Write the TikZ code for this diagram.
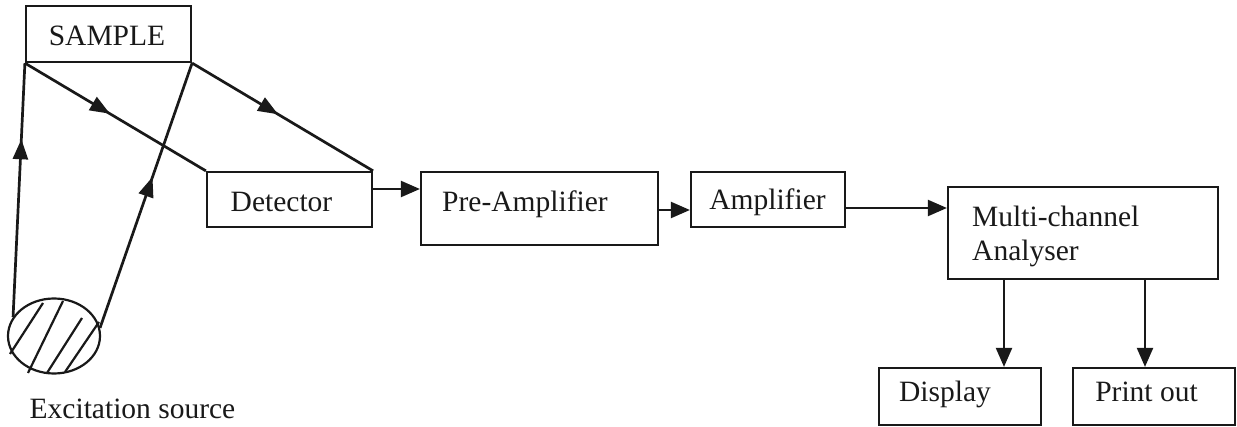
\documentclass[tikz,border=0pt]{standalone}
\usepackage{fontspec}
\setmainfont{Liberation Serif}
\usetikzlibrary{arrows.meta,decorations.markings,shapes.geometric}

\begin{document}
\begin{tikzpicture}[x=1pt,y=-1pt,
  box/.style={draw=black!90, line width=2.2pt, rectangle, inner sep=0pt},
  txt/.style={font=\fontsize{29.5}{34}\selectfont, inner sep=0pt, text=black!90},
  flow/.style={draw=black!90, line width=2.2pt, -{Triangle[length=19pt,width=16pt]}},
  ray/.style={draw=black!90, line width=2.7pt, postaction={decorate},
    decoration={markings, mark=at position #1 with {\arrow{Triangle[length=20pt,width=15pt]}}}},
]
\useasboundingbox (0,0) rectangle (1237,427);

% blocks
\node[box, minimum width=165pt, minimum height=56pt] (sample) at (108.5,34) {};
\node[box, minimum width=165pt, minimum height=55pt] (det) at (289.5,199.5) {};
\node[box, minimum width=237pt, minimum height=73pt] (pre) at (539.5,208.5) {};
\node[box, minimum width=154pt, minimum height=55pt] (amp) at (768,199.5) {};
\node[box, minimum width=270pt, minimum height=92pt] (mca) at (1083,233) {};
\node[box, minimum width=162pt, minimum height=57pt] (disp) at (960,396.5) {};
\node[box, minimum width=162pt, minimum height=57pt] (print) at (1154,396.5) {};

% block captions
\node[txt, anchor=base] (sample-t) at (107,46) {SAMPLE};
\node[txt, anchor=base] (det-t) at (281.5,212) {Detector};
\node[txt, anchor=base west] (pre-t) at (442,212) {Pre-Amplifier};
\node[txt, anchor=base] (amp-t) at (767.5,210) {Amplifier};
\node[txt, anchor=base west] (mca-t1) at (972,227) {Multi-channel};
\node[txt, anchor=base west] (mca-t2) at (972,261) {Analyser};
\node[txt, anchor=base] (disp-t) at (945,402) {Display};
\node[txt, anchor=base] (print-t) at (1146.5,402) {Print out};

% excitation source: hatched ellipse
\node[ellipse, draw=black!90, line width=2.2pt, minimum width=92pt, minimum height=75pt, inner sep=0pt] (src) at (54,336) {};
\begin{scope}[draw=black!90, line width=2.2pt]
  \draw (10,354) -- (43,303);
  \draw (28,373) -- (63,301);
  \draw (47,373) -- (82,318);
  \draw (65,372) -- (99,322);
\end{scope}
\node[txt, anchor=base] (src-t) at (132.5,418) {Excitation source};

% radiation paths
\draw[ray=0.7] (src.155) -- (sample.south west);
\draw[ray=0.57] (src.10) -- (sample.south east);
\draw[ray=0.47] (sample.south west) -- (det.north west);
\draw[ray=0.475] (sample.south east) -- (det.north east);

% signal chain
\draw[flow] ([yshift=10.5pt]det.east) -- ([yshift=10.5pt]det.east -| pre.west);
\draw[flow] ([yshift=-1.5pt]pre.east) -- ([yshift=-1.5pt]pre.east -| amp.west);
\draw[flow] ([yshift=-8.5pt]amp.east) -- ([yshift=-8.5pt]amp.east -| mca.west);
\draw[flow] ([xshift=44pt]disp.north |- mca.south) -- ([xshift=44pt]disp.north);
\draw[flow] ([xshift=-9pt]print.north |- mca.south) -- ([xshift=-9pt]print.north);
\end{tikzpicture}
\end{document}
